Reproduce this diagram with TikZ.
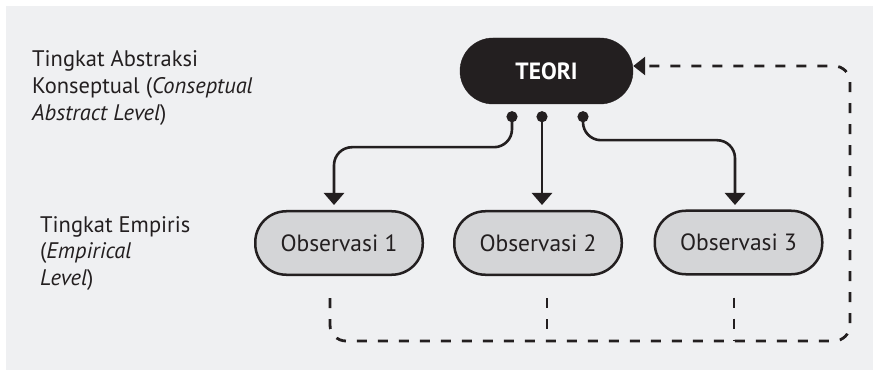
\documentclass[tikz,border=0pt]{standalone}
\usepackage{fontspec}
\setmainfont{PT Sans}
\usetikzlibrary{arrows.meta,calc}
\definecolor{ink}{HTML}{231F20}
\definecolor{paper}{HTML}{EFF0F2}
\definecolor{obsfill}{HTML}{D4D5D7}

\begin{document}
\begin{tikzpicture}[x=1pt,y=-1pt,
  lvl/.style={anchor=base west, inner sep=0pt, text=ink,
    font=\fontsize{22.5}{26}\selectfont},
  theory/.style={rectangle, rounded corners=33pt, fill=ink, draw=ink,
    minimum width=173pt, minimum height=66pt, inner sep=0pt, text=white,
    font=\fontsize{23.5}{27}\selectfont\bfseries},
  obsbox/.style={rectangle, rounded corners=31pt, fill=obsfill, draw=ink,
    line width=2.5pt, minimum width=167.5pt, minimum height=63.5pt,
    inner sep=0pt, text=ink, font=\fontsize{23.5}{27}\selectfont},
  link/.style={draw=ink, line width=2.6pt, rounded corners=18pt,
    {Circle[length=11pt]}-{Triangle[width=20pt,length=12pt]}},
  feedback/.style={draw=ink, line width=2.8pt, dash pattern=on 10pt off 11pt,
    rounded corners=16pt},
  feedtip/.style={-{Triangle[width=18pt,length=12pt]}},
]
% canvas
\useasboundingbox (0,0) rectangle (874,371);
\fill[white] (0,0) rectangle (874,371);
\fill[paper] (6,6) rectangle (873,370);

% level labels
\node[lvl] (a1) at (32,66.5) {Tingkat Abstraksi};
\node[lvl] (a2) at (32,93.5) {Konseptual (\textit{Conseptual}};
\node[lvl] (a3) at (32,120.5) {\textit{Abstract Level})};
\node[lvl] (e1) at (40,232) {Tingkat Empiris};
\node[lvl] (e2) at (40,258.5) {(\textit{Empirical}};
\node[lvl] (e3) at (40,285) {\textit{Level})};

% nodes
\node[theory] (teori) at (546.5,71) {TEORI};
\node[obsbox] (obs1) at (339,243) {Observasi 1};
\node[obsbox] (obs2) at (538,243) {Observasi 2};
\node[obsbox] (obs3) at (738.5,242.5) {Observasi 3};

% connector ends
\coordinate (s1) at ($(teori.south)+(-34.5,7)$);
\coordinate (s2) at ($(teori.south)+(-4.5,7)$);
\coordinate (s3) at ($(teori.south)+(36.5,7)$);
\coordinate (t1) at ($(obs1.north)+(-5,-5)$);
\coordinate (t2) at ($(obs2.north)+(3.5,-5)$);
\coordinate (t3) at ($(obs3.north)+(-3.5,-4.5)$);

% theory to observations
\draw[link] (s1) -- ++(0,36) -| (t1);
\draw[link] (s2) -- (s2 |- t2);
\draw[link] (s3) -- ++(0,29) -| (t3);

% feedback from observations to theory
\coordinate (f1) at ($(obs1.south)+(-9,22)$);
\coordinate (f2) at ($(obs2.south)+(9,22)$);
\coordinate (f3) at ($(obs3.south)+(-4.5,22)$);
\coordinate (fc) at (850,341);
\coordinate (ft) at ($(teori.east)+(0,-5)$);
\draw[feedback, feedtip] (f1) |- (fc) |- (ft);
\draw[feedback] (f2) -- (f2 |- fc);
\draw[feedback] (f3) -- (f3 |- fc);
\end{tikzpicture}
\end{document}
